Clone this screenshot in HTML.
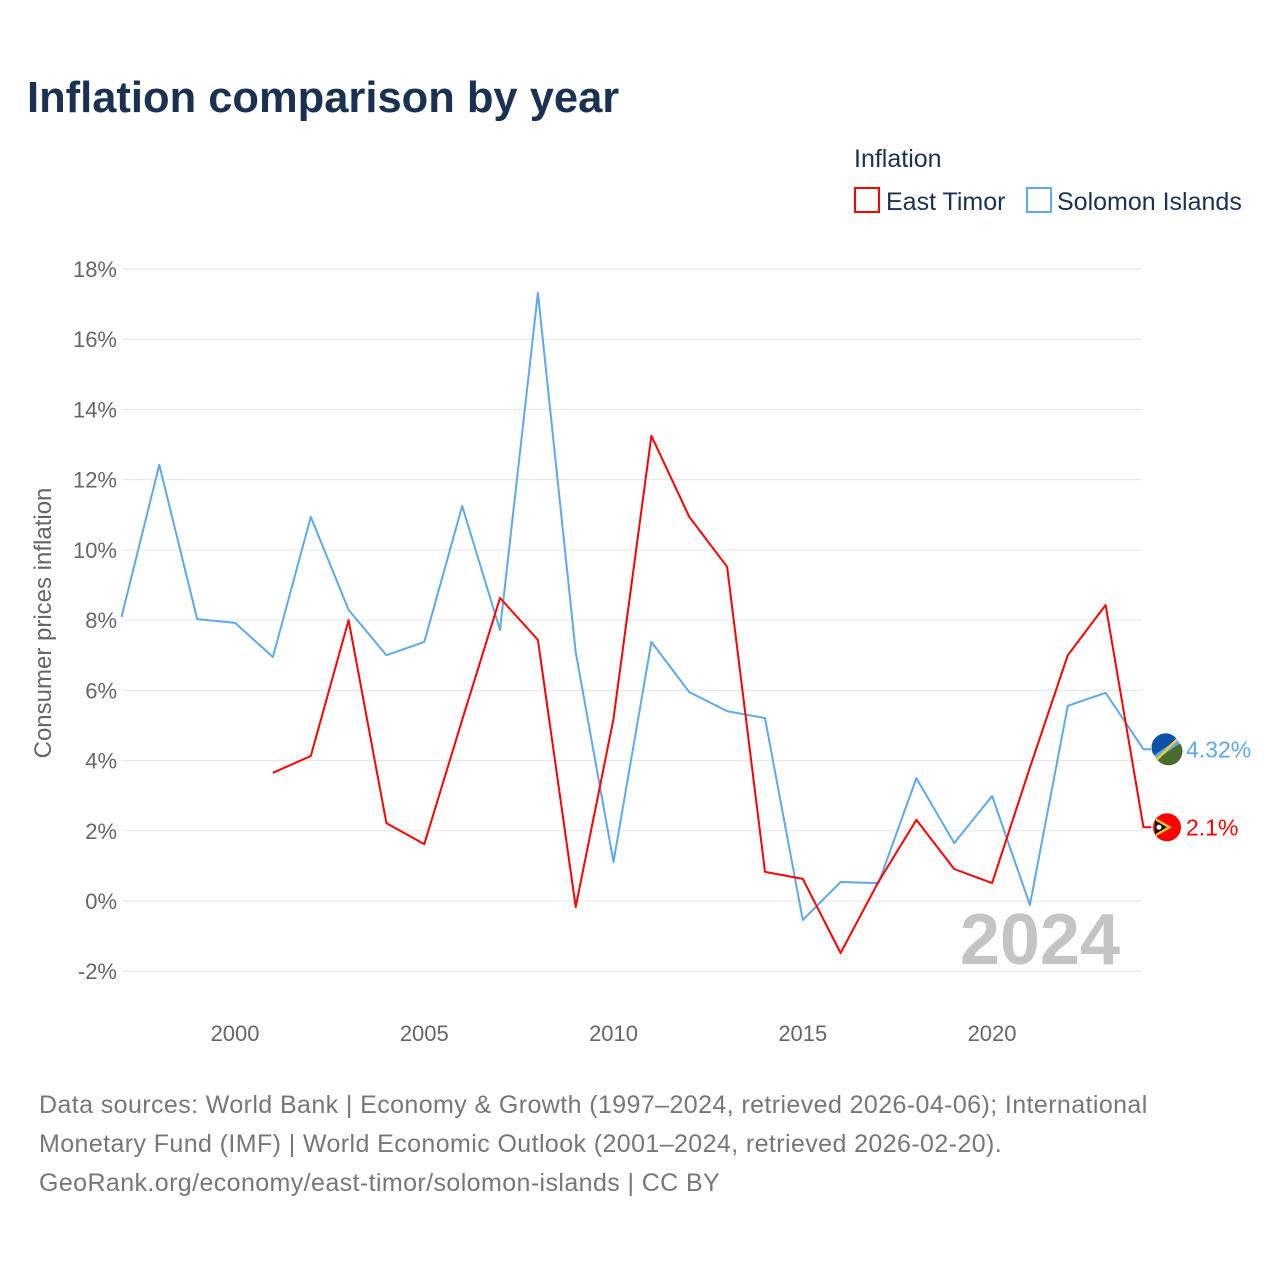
<!DOCTYPE html>
<html><head><meta charset="utf-8"><style>
html,body{margin:0;padding:0;background:#fff;width:1280px;height:1280px;overflow:hidden;font-family:"Liberation Sans",sans-serif}
</style></head><body>
<svg id="chart" width="1280" height="1280" xmlns="http://www.w3.org/2000/svg" font-family="Liberation Sans, sans-serif">
<text x="27" y="112" font-size="43.5" font-weight="bold" fill="#1b3152">Inflation comparison by year</text>
<text x="854" y="167" font-size="25" fill="#1b3152">Inflation</text>
<g><rect x="855" y="188" width="24" height="24" fill="none" stroke="#ff0000" stroke-width="2"/><text x="886" y="210" font-size="25" fill="#1b3152">East Timor</text></g>
<g><rect x="1027" y="188" width="24" height="24" fill="none" stroke="#5fa8ec" stroke-width="2"/><text x="1057" y="210" font-size="25" fill="#1b3152">Solomon Islands</text></g>
<g id="grid"></g>
<g id="yticks"></g>
<g id="xticks"></g>
<text transform="translate(51,623) rotate(-90)" text-anchor="middle" font-size="24" fill="#666">Consumer prices inflation</text>
<text x="1120" y="964" text-anchor="end" font-size="72" font-weight="bold" fill="#c4c4c4">2024</text>
<g id="series"></g>
<g font-size="25" fill="#777" letter-spacing="0.4">
<text x="39" y="1113">Data sources: World Bank | Economy &amp; Growth (1997–2024, retrieved 2026-04-06); International</text>
<text x="39" y="1152">Monetary Fund (IMF) | World Economic Outlook (2001–2024, retrieved 2026-02-20).</text>
<text x="39" y="1191">GeoRank.org/economy/east-timor/solomon-islands | CC BY</text>
</g>
</svg>
<script>
const yTicks=[-2,0,2,4,6,8,10,12,14,16,18];
const xTicks=[2000,2005,2010,2015,2020];
const solYears=[1997,1998,1999,2000,2001,2002,2003,2004,2005,2006,2007,2008,2009,2010,2011,2012,2013,2014,2015,2016,2017,2018,2019,2020,2021,2022,2023,2024];
const solValues=[8.09,12.42,8.03,7.92,6.95,10.94,8.29,7.0,7.38,11.25,7.72,17.32,7.09,1.11,7.38,5.95,5.41,5.21,-0.54,0.54,0.51,3.5,1.65,2.99,-0.11,5.56,5.93,4.32];
const etYears=[2001,2002,2003,2004,2005,2006,2007,2008,2009,2010,2011,2012,2013,2014,2015,2016,2017,2018,2019,2020,2021,2022,2023,2024];
const etValues=[3.65,4.13,8.0,2.22,1.62,5.16,8.63,7.44,-0.17,5.19,13.25,10.94,9.52,0.83,0.63,-1.48,0.55,2.31,0.91,0.51,3.8,7.0,8.43,2.1];
const NS='http://www.w3.org/2000/svg';
const X=y=>121.5+(y-1997)*37.85;
const Y=v=>901-v*35.11;
function mk(t,a,p){const e=document.createElementNS(NS,t);for(const k in a)e.setAttribute(k,a[k]);p.appendChild(e);return e;}
const grid=document.getElementById('grid'),yt=document.getElementById('yticks'),xt=document.getElementById('xticks');
yTicks.forEach(v=>{
 const l=mk('line',{x1:122,x2:1142,y1:Y(v),y2:Y(v),stroke:'#e6e6e6','stroke-width':1},grid);
 
 
 const t=mk('text',{x:117,y:Y(v)+8,'text-anchor':'end','font-size':22,fill:'#666'},yt);
 t.textContent=v+'%';
 
 
});
xTicks.forEach(y=>{
 const t=mk('text',{x:X(y),y:1041,'text-anchor':'middle','font-size':22,fill:'#666'},xt);
 t.textContent=y;
 
 
});
const s=document.getElementById('series');
function line(ys,vs,col,name,label){
 let d=ys.map((y,i)=>(i?'L':'M')+X(y).toFixed(1)+','+Y(vs[i]).toFixed(1)).join(' ');
 const last=Y(vs[vs.length-1]);
 d+=' L1151,'+last.toFixed(1);
 const p=mk('path',{d:d,fill:'none',stroke:col,'stroke-width':2,'stroke-linejoin':'round'},s);
 
 
 const c=mk('circle',{cx:1167,cy:last,r:14,fill:col},s);
 
 
 const t=mk('text',{x:1186,y:last+8,'font-size':23,fill:col},s);
 t.textContent=label;
 
 
 return last;
}
const sy=line(solYears,solValues,'#5fa8ec','solomon-islands',solValues[solValues.length-1]+'%');
const ey=line(etYears,etValues,'#ff0000','east-timor',etValues[etValues.length-1]+'%');
mk('path',{d:`M1154,${sy+6} A14,14 0 0 1 1177,${sy-10} Z`,fill:'#0f50a8'},s);
mk('path',{d:`M1157,${sy+10} A14,14 0 0 0 1180,${sy-6} Z`,fill:'#4c6b2f'},s);
mk('line',{x1:1157,y1:sy+10,x2:1177,y2:sy-10,stroke:'#f5d020','stroke-width':2.5},s);
mk('path',{d:`M1156,${ey-9} L1172,${ey} L1156,${ey+9} Z`,fill:'#f9c820'},s);
mk('path',{d:`M1155,${ey-7} L1167,${ey} L1155,${ey+7} Z`,fill:'#111'},s);
mk('circle',{cx:1159,cy:ey,r:2.5,fill:'#fff'},s);
</script>
</body></html>
